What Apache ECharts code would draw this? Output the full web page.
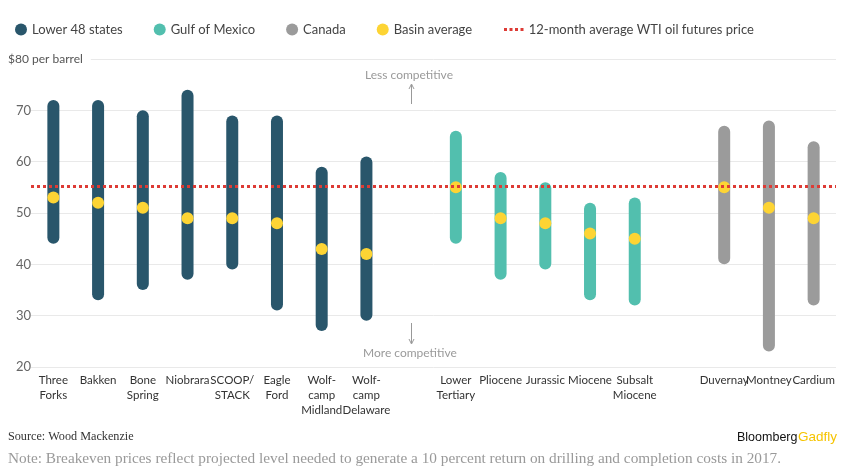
<!DOCTYPE html>
<html>
<head>
<meta charset="utf-8">
<script src="https://cdn.jsdelivr.net/npm/echarts@6/dist/echarts.min.js"></script>
<style>
  html, body { margin: 0; padding: 0; background: #fff; }
  #chart { width: 856px; height: 469px; }
</style>
</head>
<body>
<div id="chart"></div>
<script>
var chart = echarts.init(document.getElementById('chart'));

// basins, with two blank slots between the groups
var categories = ['Three\nForks', 'Bakken', 'Bone\nSpring', 'Niobrara', 'SCOOP/\nSTACK', 'Eagle\nFord',
    'Wolf-\ncamp\nMidland', 'Wolf-\ncamp\nDelaware', ' ',
    'Lower\nTertiary', 'Pliocene', 'Jurassic', 'Miocene', 'Subsalt\nMiocene', '  ',
    'Duvernay', 'Montney', 'Cardium'];
var regions = ['L48', 'L48', 'L48', 'L48', 'L48', 'L48', 'L48', 'L48', '',
    'GOM', 'GOM', 'GOM', 'GOM', 'GOM', '',
    'CAN', 'CAN', 'CAN'];
var low  = [44, 33, 35, 37, 39, 31, 27, 29, '-', 44, 37, 39, 33, 32, '-', 40, 23, 32];
var high = [72, 72, 70, 74, 69, 69, 59, 61, '-', 66, 58, 56, 52, 53, '-', 67, 68, 64];
var avg  = [53, 52, 51, 49, 49, 48, 43, 42, '-', 55, 49, 48, 46, 45, '-', 55, 51, 49];
var wti = 55.3;
var yTicks = [20, 30, 40, 50, 60, 70, 80];

var groups = [
    {key: 'L48', name: 'Lower 48 states', color: '#29566b'},
    {key: 'GOM', name: 'Gulf of Mexico', color: '#52bfae'},
    {key: 'CAN', name: 'Canada', color: '#9b9b9b'}
];
var wtiName = '12-month average WTI oil futures price';
var font = 'Lato, "Noto Sans", sans-serif';
var serif = '"Liberation Serif", "DejaVu Serif", serif';

var series = [{
    name: 'base',
    type: 'bar',
    stack: 'range',
    barWidth: 12,
    silent: true,
    itemStyle: {color: 'transparent'},
    data: low
}];
groups.forEach(function (g) {
    series.push({
        name: g.name,
        type: 'bar',
        stack: 'range',
        barWidth: 12,
        itemStyle: {color: g.color, borderRadius: 6},
        data: categories.map(function (c, i) {
            return regions[i] === g.key ? high[i] - low[i] : '-';
        })
    });
});
series.push({
    name: wtiName,
    type: 'line',
    data: [],
    z: 3,
    itemStyle: {color: '#dd3b35'},
    lineStyle: {color: '#dd3b35'},
    markLine: {
        silent: true,
        symbol: 'none',
        label: {show: false},
        lineStyle: {color: '#dd3b35', type: [3, 3], width: 3},
        data: [{yAxis: wti}]
    }
});
series.push({
    name: 'Basin average',
    type: 'scatter',
    z: 4,
    symbolSize: 12,
    itemStyle: {color: '#fdd434', opacity: 1},
    data: avg
});

var option = {
    animation: false,
    backgroundColor: '#fff',
    textStyle: {fontFamily: font},
    legend: [{
        left: 10,
        top: 18,
        icon: 'circle',
        itemWidth: 12,
        itemHeight: 12,
        itemGap: 31,
        textStyle: {fontSize: 13, color: '#444', fontFamily: font},
        data: ['Lower 48 states', 'Gulf of Mexico', 'Canada', 'Basin average']
    }, {
        left: 499,
        top: 18,
        itemWidth: 20,
        itemHeight: 3,
        textStyle: {fontSize: 13, color: '#444', fontFamily: font},
        data: [{name: wtiName, icon: 'path://M0,0h3v3h-3zM5.5,0h3v3h-3zM11,0h3v3h-3zM16.5,0h3v3h-3z'}]
    }],
    grid: {left: 31, right: 20, top: 59, bottom: 102, containLabel: false},
    xAxis: {
        type: 'category',
        data: categories,
        axisLine: {show: false},
        axisTick: {show: false},
        axisLabel: {
            interval: 0,
            margin: 6,
            fontSize: 11.5,
            lineHeight: 15,
            color: '#333',
            fontFamily: font
        }
    },
    yAxis: {
        type: 'value',
        min: yTicks[0],
        max: yTicks[yTicks.length - 1],
        interval: 10,
        axisLine: {show: false},
        axisTick: {show: false},
        splitLine: {lineStyle: {color: '#e9e9e9', width: 1}},
        axisLabel: {
            align: 'left',
            margin: 15,
            fontSize: 13,
            color: '#666',
            fontFamily: font,
            formatter: function (v) { return v === 80 ? '' : v; }
        }
    },
    graphic: [
        {type: 'text', left: 8, top: 51, z: 10,
         style: {text: '$80 per barrel', fontSize: 12, fill: '#555', fontFamily: font,
                 backgroundColor: '#fff', padding: [2, 8, 2, 0]}},
        {type: 'text', left: 365, top: 69,
         style: {text: 'Less competitive', fontSize: 12, fill: '#9a9a9a', fontFamily: font}},
        {type: 'line', shape: {x1: 411.5, y1: 85, x2: 411.5, y2: 104},
         style: {stroke: '#999', lineWidth: 1}},
        {type: 'polyline', shape: {points: [[409, 89], [411.5, 84], [414, 89]]},
         style: {stroke: '#999', lineWidth: 1, fill: null}},
        {type: 'line', shape: {x1: 411.5, y1: 323, x2: 411.5, y2: 343},
         style: {stroke: '#999', lineWidth: 1}},
        {type: 'polyline', shape: {points: [[409, 339], [411.5, 344], [414, 339]]},
         style: {stroke: '#999', lineWidth: 1, fill: null}},
        {type: 'text', left: 363, top: 347,
         style: {text: 'More competitive', fontSize: 12, fill: '#9a9a9a', fontFamily: font}},
        {type: 'text', left: 8, top: 431,
         style: {text: 'Source: Wood Mackenzie', fontSize: 12.2, fill: '#333', fontFamily: serif}},
        {type: 'text', left: 8, top: 451,
         style: {text: 'Note: Breakeven prices reflect projected level needed to generate a 10 percent return on drilling and completion costs in 2017.',
                 fontSize: 15.3, fill: '#999', fontFamily: serif}},
        {type: 'text', left: 737, top: 431,
         style: {text: 'Bloomberg', fontSize: 12.5, fill: '#111', fontFamily: '"Liberation Sans Narrow", "Liberation Sans", sans-serif'}},
        {type: 'text', left: 798, top: 430,
         style: {text: 'Gadfly', fontSize: 13.5, fill: '#f6c400', fontFamily: '"Liberation Sans Narrow", "Liberation Sans", sans-serif'}}
    ],
    series: series
};

chart.setOption(option);
</script>
</body>
</html>
